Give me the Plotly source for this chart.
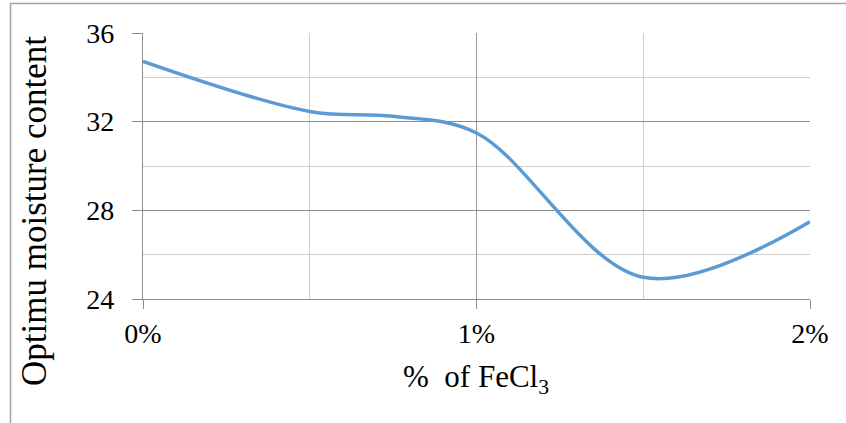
import plotly.graph_objects as go

# FeCl3 dosage (%) and the optimum moisture content measured at each dosage
fecl3_pct = [0, 0.5, 0.75, 1.0, 1.5, 2.0]
optimum_moisture = [34.72, 32.46, 32.24, 31.49, 24.98, 27.49]

x_ticks = [0, 1, 2]
x_tick_labels = ["0%", "1%", "2%"]
y_ticks = [24, 28, 32, 36]

W, H = 846, 423
L, R, T, B = 143, 36, 33, 124
pw, ph = W - L - R, H - T - B


def px_to_paper_x(px):
    return (px - L) / pw


def px_to_paper_y(py):
    return (H - B - py) / ph


serif = "Liberation Serif, Times New Roman, serif"

fig = go.Figure(
    go.Scatter(
        x=fecl3_pct,
        y=optimum_moisture,
        mode="lines",
        line=dict(color="#5B9BD5", width=3.5, shape="spline", smoothing=1.0),
        hoverinfo="x+y",
    )
)

fig.update_layout(
    width=W,
    height=H,
    margin=dict(l=L, r=R, t=T, b=B, pad=0),
    paper_bgcolor="white",
    plot_bgcolor="white",
    showlegend=False,
    font=dict(family=serif, color="black"),
)

fig.update_xaxes(
    range=[0, 2],
    tickmode="array",
    tickvals=x_ticks,
    ticktext=x_tick_labels,
    tickfont=dict(family=serif, size=28, color="black"),
    ticks="outside",
    ticklen=9,
    tickcolor="#8c8c8c",
    ticklabelstandoff=0,
    showline=True,
    linecolor="#8c8c8c",
    linewidth=1.3,
    showgrid=True,
    gridcolor="#9a9a9a",
    gridwidth=1.2,
    zeroline=False,
    minor=dict(dtick=0.5, showgrid=True, gridcolor="#cfcfcf", gridwidth=1.2, ticks=""),
)

fig.update_yaxes(
    range=[24, 36],
    tickmode="array",
    tickvals=y_ticks,
    tickfont=dict(family=serif, size=28, color="black"),
    ticks="outside",
    ticklen=10,
    tickcolor="#8c8c8c",
    ticklabelstandoff=12,
    showline=True,
    linecolor="#8c8c8c",
    linewidth=1.3,
    showgrid=True,
    gridcolor="#8c8c8c",
    gridwidth=1.2,
    zeroline=False,
    minor=dict(dtick=2, showgrid=True, gridcolor="#cfcfcf", gridwidth=1.2, ticks=""),
)

# Axis titles
fig.add_annotation(
    text="% \u00a0of FeCl<sub>3</sub>",
    xref="paper", yref="paper",
    x=px_to_paper_x(476), y=px_to_paper_y(379),
    xanchor="center", yanchor="middle",
    showarrow=False,
    font=dict(family=serif, size=31, color="black"),
)
fig.add_annotation(
    text="Optimu moisture content",
    xref="paper", yref="paper",
    x=px_to_paper_x(34), y=px_to_paper_y(211),
    xanchor="center", yanchor="middle",
    textangle=-90,
    showarrow=False,
    font=dict(family=serif, size=35, color="black"),
)

# Chart-area frame (top and left edges)
frame = dict(color="#a3a3a3", width=1.5)
fig.add_shape(type="line", xref="paper", yref="paper",
              x0=px_to_paper_x(10), x1=px_to_paper_x(850),
              y0=px_to_paper_y(3.5), y1=px_to_paper_y(3.5), line=frame)
fig.add_shape(type="line", xref="paper", yref="paper",
              x0=px_to_paper_x(10.5), x1=px_to_paper_x(10.5),
              y0=px_to_paper_y(3.5), y1=px_to_paper_y(430), line=frame)

fig.write_html("out.html")
